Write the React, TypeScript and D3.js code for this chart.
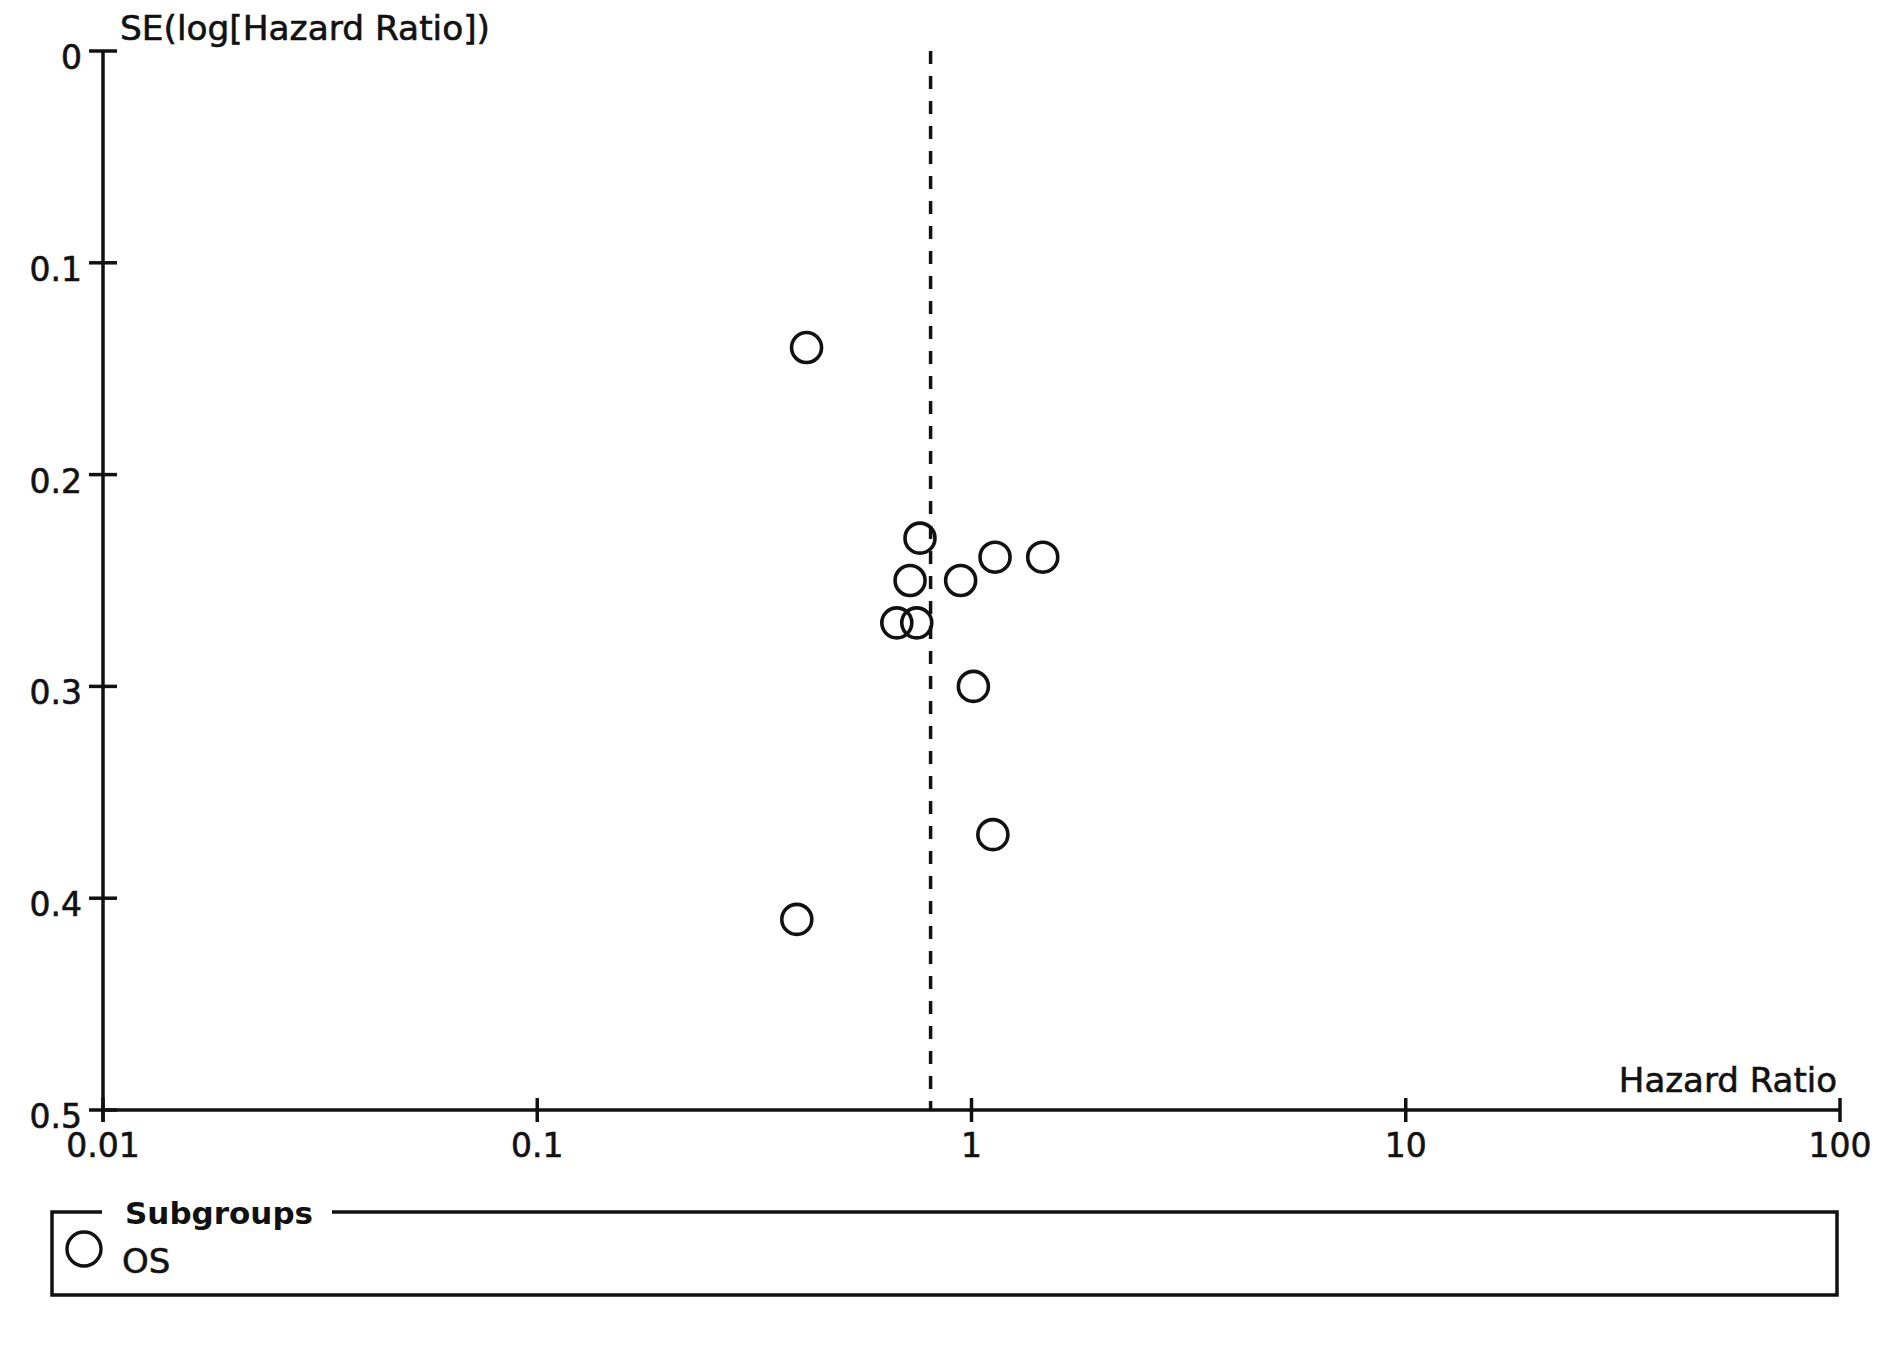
import React from "react";
import * as d3 from "d3";

const studyNames = ["S1", "S2", "S3", "S4", "S5", "S6", "S7", "S8", "S9", "S10", "S11"];
const hazardRatios = [0.417, 0.761, 1.133, 1.459, 0.722, 0.944, 0.673, 0.748, 1.01, 1.12, 0.396];
const seLogHR = [0.14, 0.23, 0.239, 0.239, 0.25, 0.25, 0.27, 0.27, 0.3, 0.37, 0.41];
const pooledHR = 0.805;
const xTicks = [0.01, 0.1, 1, 10, 100];
const xTickLabels = ["0.01", "0.1", "1", "10", "100"];
const yTicks = [0, 0.1, 0.2, 0.3, 0.4, 0.5];
const yTickLabels = ["0", "0.1", "0.2", "0.3", "0.4", "0.5"];
const legendItems = ["OS"];

const W = 1890;
const H = 1348;
const FONT = "'DejaVu Sans', Verdana, sans-serif";

export default function App() {
  const x = d3.scaleLog().domain([0.01, 100]).range([103, 1840]);
  const y = d3.scaleLinear().domain([0, 0.5]).range([51, 1110]);
  const ink = "#111";
  const textStroke = { stroke: ink, strokeWidth: 0.6 };

  return (
    <svg
      width={W}
      height={H}
      viewBox={`0 0 ${W} ${H}`}
      style={{ position: "absolute", left: 0, top: 0, background: "#fff" }}
    >
      <rect x={0} y={0} width={W} height={H} fill="#fff" />
      {/* Y axis */}
      <line x1={x(0.01)} x2={x(0.01)} y1={y(0)} y2={y(0.5) + 12} stroke={ink} strokeWidth={3.5} />
      {yTicks.map((t, i) => (
        <g key={"y" + i}>
          <line x1={x(0.01) - 14} x2={x(0.01) + 14} y1={y(t)} y2={y(t)} stroke={ink} strokeWidth={3.5} />
          <text
            x={82}
            y={y(t) + 18}
            textAnchor="end"
            fontFamily={FONT}
            fontSize={33}
            fill={ink}
            {...textStroke}
          >
            {yTickLabels[i]}
          </text>
        </g>
      ))}
      {/* X axis */}
      <line x1={x(0.01)} x2={x(100)} y1={y(0.5)} y2={y(0.5)} stroke={ink} strokeWidth={3.5} />
      {xTicks.map((t, i) => (
        <g key={"x" + i}>
          <line x1={x(t)} x2={x(t)} y1={y(0.5) - 12} y2={y(0.5) + 12} stroke={ink} strokeWidth={3.5} />
          <text
            x={x(t)}
            y={1157}
            textAnchor="middle"
            fontFamily={FONT}
            fontSize={33}
            fill={ink}
            {...textStroke}
          >
            {xTickLabels[i]}
          </text>
        </g>
      ))}
      {/* Axis titles */}
      <text
        x={120}
        y={40}
        fontFamily={FONT}
        fontSize={34}
        fill={ink}
        textLength={370}
        lengthAdjust="spacingAndGlyphs"
        {...textStroke}
      >
        SE(log[Hazard Ratio])
      </text>
      <text x={1837} y={1092} textAnchor="end" fontFamily={FONT} fontSize={34} fill={ink} {...textStroke}>
        Hazard Ratio
      </text>
      {/* Pooled estimate dashed line */}
      <line
        x1={x(pooledHR)}
        x2={x(pooledHR)}
        y1={y(0)}
        y2={y(0.5)}
        stroke={ink}
        strokeWidth={3.5}
        strokeDasharray="13 12"
      />
      {/* Study points */}
      {hazardRatios.map((hr, i) => (
        <circle
          key={studyNames[i]}
          cx={x(hr)}
          cy={y(seLogHR[i])}
          r={15}
          fill="none"
          stroke={ink}
          strokeWidth={3.6}
        />
      ))}
      {/* Legend */}
      <path
        d="M102,1212 H52 V1295 H1837 V1212 H332"
        fill="none"
        stroke={ink}
        strokeWidth={3.5}
      />
      <text x={125} y={1224} fontFamily={FONT} fontSize={31} fontWeight="bold" fill={ink}>
        Subgroups
      </text>
      {legendItems.map((name, i) => (
        <g key={name}>
          <circle cx={84} cy={1249} r={17} fill="none" stroke={ink} strokeWidth={3.4} />
          <text x={122} y={1273 + i * 40} fontFamily={FONT} fontSize={34} fill={ink} {...textStroke}>
            {name}
          </text>
        </g>
      ))}
    </svg>
  );
}
